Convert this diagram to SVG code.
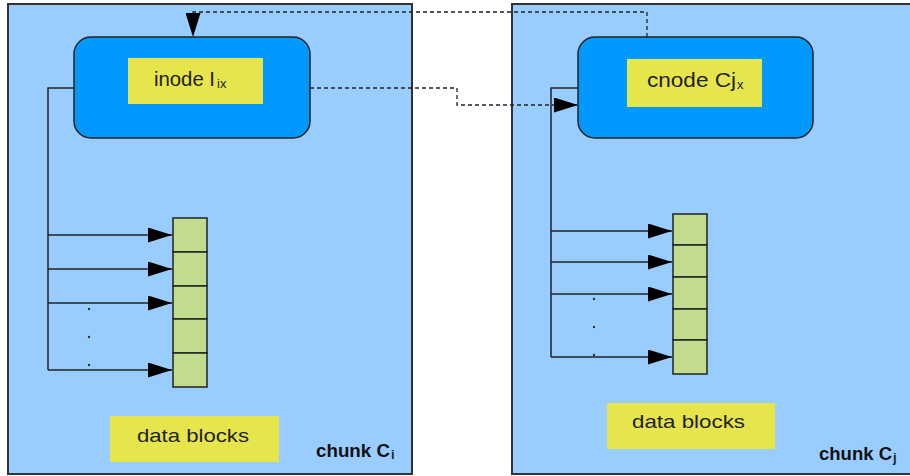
<svg xmlns="http://www.w3.org/2000/svg" width="910" height="476" viewBox="0 0 910 476">
<style>
.chunk{fill:#99ccff;stroke:#333;stroke-width:2}
.node{fill:#0099ff;stroke:#222;stroke-width:1.5}
.lbl{fill:#e6e64c}
.blk{fill:#c0dc8c;stroke:#222;stroke-width:1.5}
.txt{font-family:"Liberation Sans",Arial,sans-serif;fill:#222}
.sub{font-family:"Liberation Sans",Arial,sans-serif;fill:#222;font-size:13px}
.bold{font-family:"Liberation Sans",Arial,sans-serif;fill:#111;font-weight:bold;font-size:18px}
.solid{fill:none;stroke:#222;stroke-width:1.5}
.dash{fill:none;stroke:#222;stroke-width:1.3;stroke-dasharray:4 3}
.dot{fill:#333}
</style>
<defs>
<marker id="ah" markerUnits="userSpaceOnUse" markerWidth="24" markerHeight="15" refX="24" refY="7.5" orient="auto">
<path d="M0,0 L24,7.5 L0,15 z" fill="#000"/>
</marker>
</defs>
<g id="chunk-i">
<rect class="chunk" x="8" y="4" width="404" height="470"/>
<text class="bold" x="316" y="457" textLength="74" lengthAdjust="spacingAndGlyphs">chunk C</text><text class="sub" x="391" y="459" font-weight="bold">i</text>
</g>
<g id="chunk-j">
<rect class="chunk" x="512" y="4" width="410" height="470"/>
<text class="bold" x="819" y="460" textLength="73" lengthAdjust="spacingAndGlyphs">chunk C</text><text class="sub" x="893" y="462" font-weight="bold">j</text>
</g>
<g id="inode">
<rect class="node" x="74" y="37" width="236" height="101" rx="17"/>
<rect class="lbl" x="128" y="58" width="135" height="46"/>
<text class="txt" x="154" y="86" font-size="20" textLength="61" lengthAdjust="spacingAndGlyphs">inode I</text><text class="sub" x="217" y="88" font-size="14">ix</text>
</g>
<g id="cnode">
<rect class="node" x="578" y="37" width="235" height="101" rx="17"/>
<rect class="lbl" x="627" y="59" width="135" height="48"/>
<text class="txt" x="647" y="87" font-size="20" textLength="89" lengthAdjust="spacingAndGlyphs">cnode Cj</text><text class="sub" x="737" y="89" font-size="14">x</text>
</g>
<g id="blocks-i">
<rect class="blk" x="173" y="218" width="34" height="34"/>
<rect class="blk" x="173" y="252" width="34" height="34"/>
<rect class="blk" x="173" y="286" width="34" height="33"/>
<rect class="blk" x="173" y="319" width="34" height="34"/>
<rect class="blk" x="173" y="353" width="34" height="34"/>
</g>
<g id="blocks-j">
<rect class="blk" x="673" y="214" width="34" height="31"/>
<rect class="blk" x="673" y="245" width="34" height="32"/>
<rect class="blk" x="673" y="277" width="34" height="32"/>
<rect class="blk" x="673" y="309" width="34" height="31"/>
<rect class="blk" x="673" y="340" width="34" height="34"/>
</g>
<g id="label-i">
<rect class="lbl" x="110" y="416" width="169" height="46"/>
<text class="txt" x="137" y="442" font-size="19" textLength="112" lengthAdjust="spacingAndGlyphs">data blocks</text>
</g>
<g id="label-j">
<rect class="lbl" x="607" y="403" width="168" height="46"/>
<text class="txt" x="632" y="428" font-size="19" textLength="113" lengthAdjust="spacingAndGlyphs">data blocks</text>
</g>
<g id="connectors">
<path class="dash" d="M647,37 V12 H193 V37" marker-end="url(#ah)"/>
<path class="dash" d="M310,88 H457 V105 H578" marker-end="url(#ah)"/>
<path class="solid" d="M74,88 H48 V370"/>
<path class="solid" d="M48,235 H172" marker-end="url(#ah)"/>
<path class="solid" d="M48,269 H172" marker-end="url(#ah)"/>
<path class="solid" d="M48,303 H172" marker-end="url(#ah)"/>
<path class="solid" d="M48,370 H172" marker-end="url(#ah)"/>
<path class="solid" d="M578,88 H551 V357"/>
<path class="solid" d="M551,231 H672" marker-end="url(#ah)"/>
<path class="solid" d="M551,262 H672" marker-end="url(#ah)"/>
<path class="solid" d="M551,294 H672" marker-end="url(#ah)"/>
<path class="solid" d="M551,357 H672" marker-end="url(#ah)"/>
<circle class="dot" cx="89" cy="309" r="1.2"/>
<circle class="dot" cx="89" cy="337" r="1.2"/>
<circle class="dot" cx="89" cy="365" r="1.2"/>
<circle class="dot" cx="594" cy="299" r="1.2"/>
<circle class="dot" cx="594" cy="327" r="1.2"/>
<circle class="dot" cx="594" cy="355" r="1.2"/>
</g>
</svg>
